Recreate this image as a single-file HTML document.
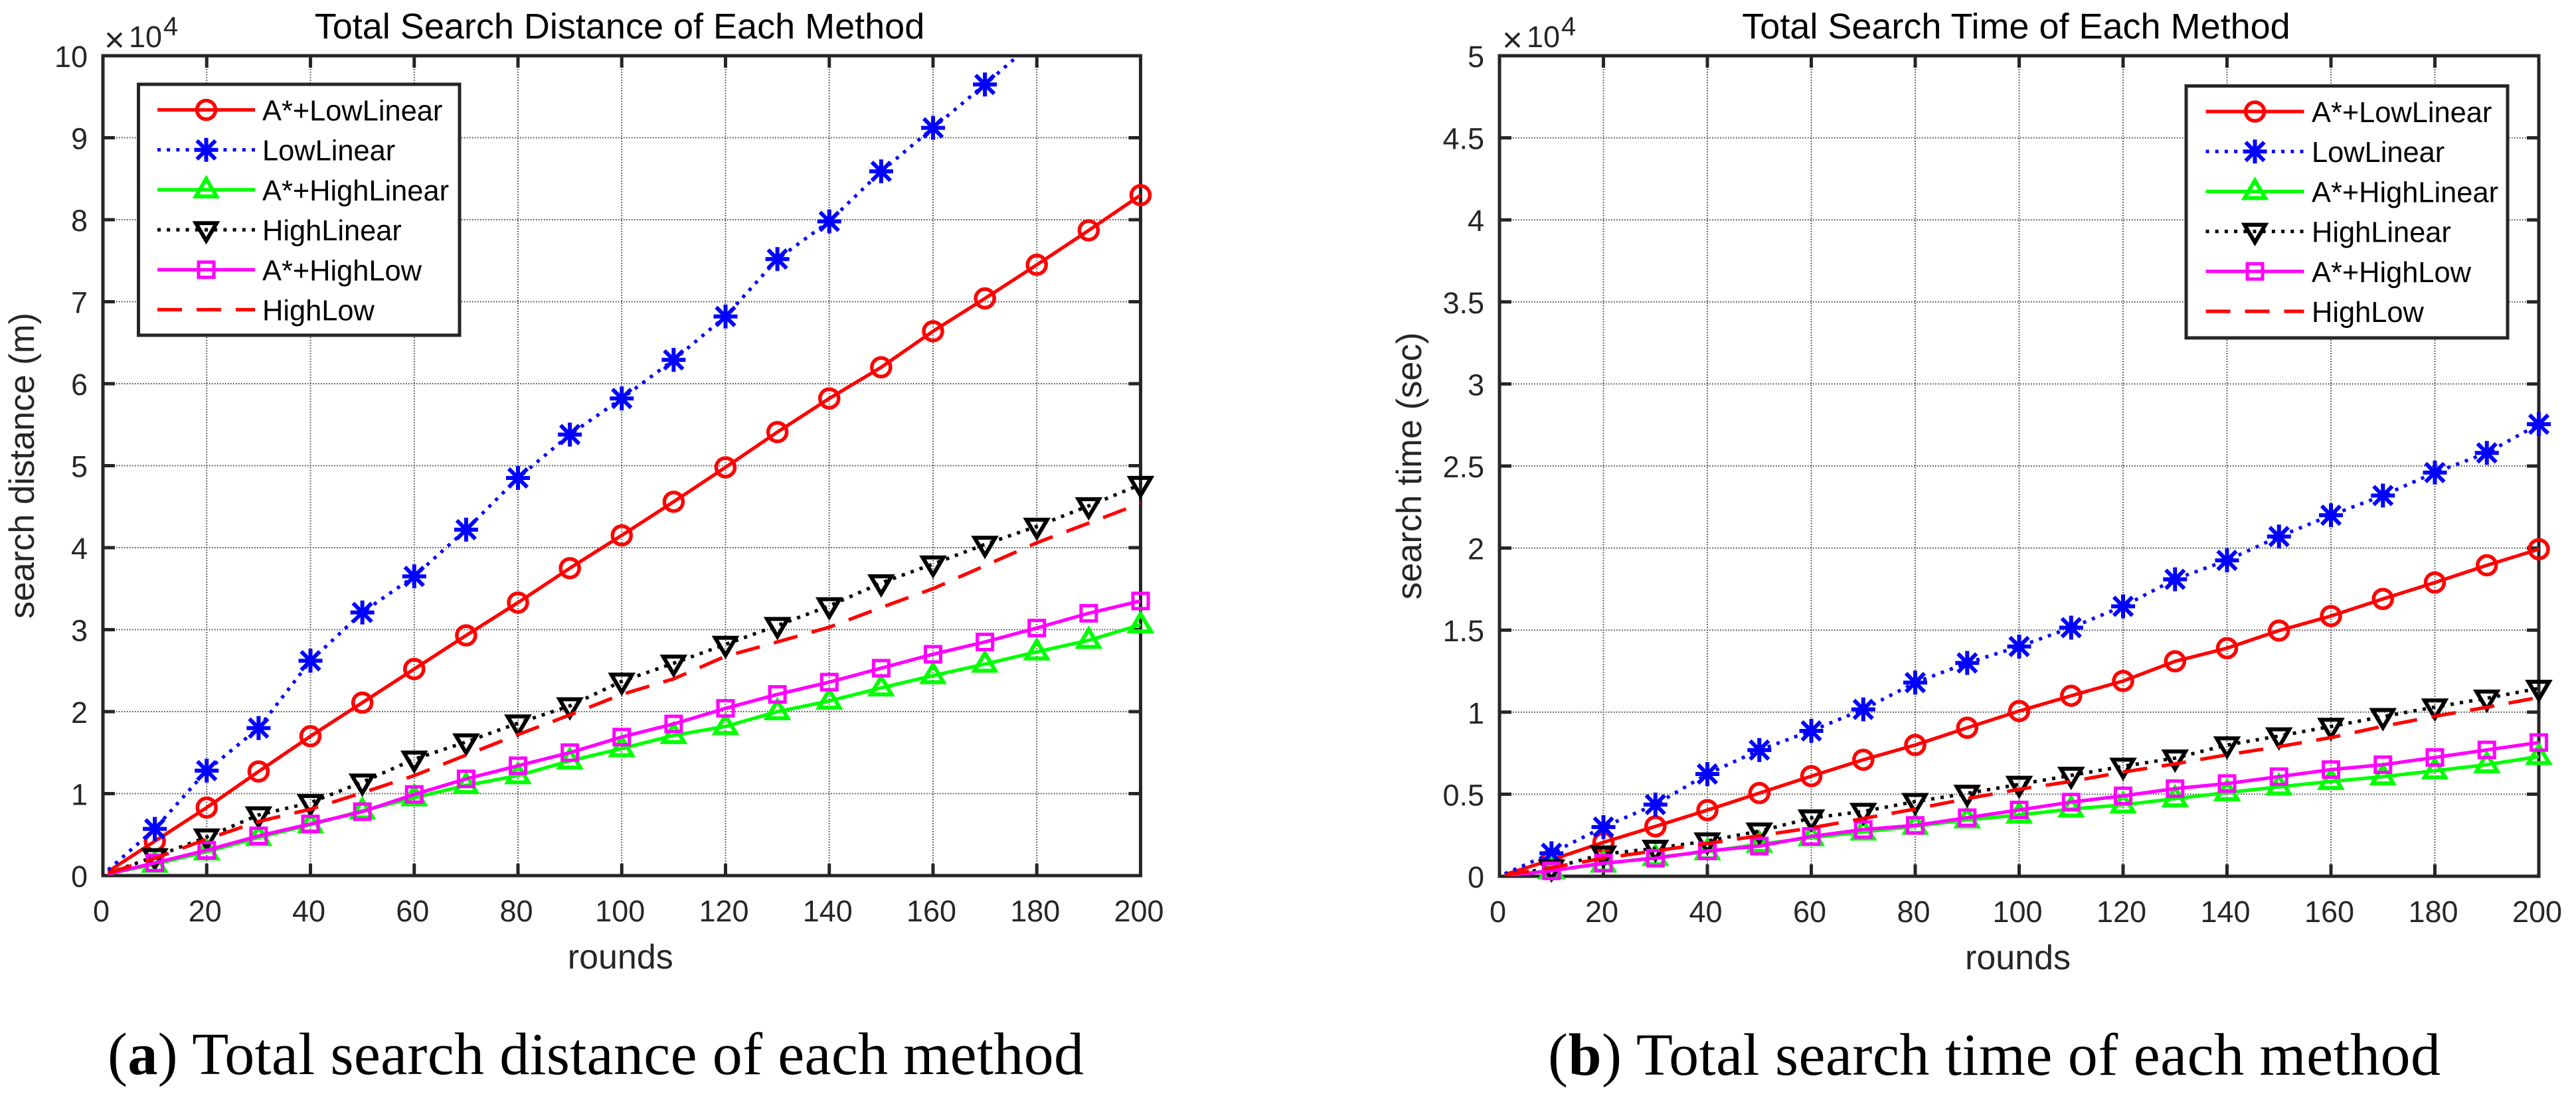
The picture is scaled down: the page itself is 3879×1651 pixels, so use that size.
<!DOCTYPE html>
<html lang="en">
<head>
<meta charset="utf-8">
<title>Total Search Distance and Time of Each Method</title>
<style>
html,body{margin:0;padding:0;background:#fff;width:3879px;height:1651px;overflow:hidden}
svg{display:block}
text{font-family:"Liberation Sans",Arial,sans-serif}
.cap{font-family:"Liberation Serif","Times New Roman",serif;font-size:90px;fill:#000}
</style>
</head>
<body>
<svg id="figure" xmlns="http://www.w3.org/2000/svg" width="3879" height="1651" viewBox="0 0 3879 1651">
<rect x="0" y="0" width="3879" height="1651" fill="#fff"/>
<g id="chart-a"></g>
<g id="chart-b"></g>
<text class="cap" x="162" y="1618" textLength="1470" lengthAdjust="spacing">(<tspan font-weight="bold">a</tspan>) Total search distance of each method</text>
<text class="cap" x="2331" y="1619" textLength="1344" lengthAdjust="spacing">(<tspan font-weight="bold">b</tspan>) Total search time of each method</text>
</svg>
<script>
const rounds = [1,10,20,30,40,50,60,70,80,90,100,110,120,130,140,150,160,170,180,190,200];
const xTickValues = [0,20,40,60,80,100,120,140,160,180,200];
const distanceTickValues = [0,1,2,3,4,5,6,7,8,9,10];
const timeTickValues = [0,0.5,1,1.5,2,2.5,3,3.5,4,4.5,5];
const seriesNames = ['A*+LowLinear','LowLinear','A*+HighLinear','HighLinear','A*+HighLow','HighLow'];

const distLowLinearAstar = [0.05,0.42,0.83,1.27,1.70,2.11,2.52,2.93,3.33,3.75,4.15,4.56,4.98,5.41,5.82,6.20,6.64,7.04,7.45,7.87,8.30];
const distLowLinear = [0.07,0.57,1.28,1.80,2.62,3.21,3.65,4.22,4.85,5.38,5.82,6.29,6.82,7.52,7.98,8.59,9.12,9.65,10.2,10.75,11.3];
const distHighLinearAstar = [0.02,0.14,0.29,0.465,0.62,0.79,0.95,1.10,1.22,1.40,1.55,1.71,1.82,2.00,2.13,2.29,2.44,2.58,2.73,2.87,3.06];
const distHighLinear = [0.03,0.23,0.47,0.74,0.89,1.14,1.42,1.63,1.86,2.07,2.37,2.59,2.82,3.05,3.29,3.57,3.80,4.04,4.26,4.51,4.77];
const distHighLowAstar = [0.02,0.155,0.31,0.485,0.63,0.78,0.99,1.18,1.34,1.50,1.69,1.85,2.04,2.21,2.36,2.53,2.70,2.85,3.02,3.20,3.35];
const distHighLow = [0.03,0.21,0.445,0.66,0.81,1.01,1.22,1.47,1.72,1.96,2.21,2.40,2.675,2.85,3.03,3.27,3.50,3.78,4.06,4.30,4.54];

const timeLowLinearAstar = [0.01,0.10,0.207,0.304,0.403,0.507,0.61,0.71,0.80,0.905,1.007,1.10,1.19,1.31,1.39,1.497,1.586,1.69,1.79,1.895,1.993];
const timeLowLinear = [0.015,0.14,0.30,0.437,0.623,0.769,0.886,1.017,1.18,1.30,1.40,1.515,1.645,1.81,1.925,2.07,2.20,2.32,2.46,2.58,2.755];
const timeHighLinearAstar = [0.004,0.035,0.075,0.115,0.15,0.195,0.235,0.27,0.305,0.344,0.373,0.41,0.435,0.473,0.51,0.545,0.578,0.607,0.643,0.68,0.73];
const timeHighLinear = [0.005,0.05,0.135,0.17,0.215,0.275,0.355,0.395,0.455,0.505,0.56,0.615,0.67,0.72,0.80,0.855,0.913,0.973,1.031,1.085,1.145];
const timeHighLowAstar = [0.004,0.033,0.08,0.11,0.155,0.184,0.243,0.285,0.31,0.357,0.404,0.452,0.49,0.534,0.565,0.607,0.65,0.68,0.724,0.77,0.815];
const timeHighLow = [0.006,0.053,0.11,0.155,0.20,0.247,0.295,0.352,0.41,0.473,0.53,0.578,0.635,0.685,0.74,0.79,0.845,0.914,0.975,1.03,1.09];

const SVGNS = 'http://www.w3.org/2000/svg';
const seriesStyles = [
  {color:'#ff0000', dash:'', width:5.2, marker:'circle'},
  {color:'#0000ff', dash:'5 9.2', width:5.2, marker:'asterisk'},
  {color:'#00ff00', dash:'', width:5.2, marker:'triangle-up'},
  {color:'#000000', dash:'5 9.2', width:5.2, marker:'triangle-down'},
  {color:'#ff00ff', dash:'', width:5.2, marker:'square'},
  {color:'#ff0000', dash:'37 22', width:5.2, marker:'none'}
];

function mk(parent, tag, attrs, txt) {
  const el = document.createElementNS(SVGNS, tag);
  for (const k in attrs) el.setAttribute(k, attrs[k]);
  if (txt !== undefined) el.textContent = txt;
  parent.appendChild(el);
  return el;
}

function drawMarker(parent, kind, cx, cy, color) {
  const sw = 5.5;
  const base = {fill:'none', stroke:color, 'stroke-width':sw};
  if (kind === 'circle') {
    return mk(parent, 'circle', Object.assign({cx:cx, cy:cy, r:14}, base));
  }
  if (kind === 'square') {
    return mk(parent, 'rect', Object.assign({x:cx-11.5, y:cy-11.5, width:23, height:23}, base, {'stroke-width':5}));
  }
  if (kind === 'triangle-up') {
    return mk(parent, 'polygon', Object.assign({points:[[cx,cy-16.5],[cx+15.6,cy+10],[cx-15.6,cy+10]].join(' ')}, base, {'stroke-width':6}));
  }
  if (kind === 'triangle-down') {
    return mk(parent, 'polygon', Object.assign({points:[[cx,cy+16.5],[cx+15.6,cy-10],[cx-15.6,cy-10]].join(' ')}, base, {'stroke-width':6}));
  }
  if (kind === 'asterisk') {
    const r = 18, d = 14;
    const segs = [[-r,0,r,0],[0,-r,0,r],[-d,-d,d,d],[-d,d,d,-d]];
    const d_ = segs.map(s => 'M' + (cx+s[0]) + ' ' + (cy+s[1]) + 'L' + (cx+s[2]) + ' ' + (cy+s[3])).join('');
    return mk(parent, 'path', Object.assign({d:d_}, base, {'stroke-width':6}));
  }
  return null;
}

function drawChart(root, cfg) {
  const L = cfg.left, R = cfg.right, T = cfg.top, B = cfg.bottom;
  const xScale = v => L + (v - 0) / 200 * (R - L);
  const yScale = v => B - v / cfg.yMax * (B - T);
  const axisColor = '#262626';

  const clipId = cfg.id + '-clip';
  const defs = mk(root, 'defs', {});
  const clip = mk(defs, 'clipPath', {id:clipId});
  mk(clip, 'rect', {x:L, y:T, width:R-L, height:B-T});

  const grid = mk(root, 'g', {fill:'none', stroke:'#3c3c3c', 'stroke-width':2, 'stroke-dasharray':'1.5 2.5'});
  
  
  xTickValues.forEach(v => {
    if (v === 0 || v === 200) return;
    const ln = mk(grid, 'line', {x1:xScale(v), x2:xScale(v), y1:T, y2:B});
    
    
  });
  cfg.yTicks.forEach(v => {
    if (v === 0 || v === cfg.yMax) return;
    const ln = mk(grid, 'line', {x1:L, x2:R, y1:yScale(v), y2:yScale(v)});
    
    
  });

  const ticks = mk(root, 'g', {stroke:axisColor, 'stroke-width':5, fill:'none'});
  
  
  const tlen = 18;
  xTickValues.forEach(v => {
    if (v === 0 || v === 200) return;
    const a = mk(ticks, 'line', {x1:xScale(v), x2:xScale(v), y1:B, y2:B-tlen});
    
    
    const b = mk(ticks, 'line', {x1:xScale(v), x2:xScale(v), y1:T, y2:T+tlen});
    
    
  });
  cfg.yTicks.forEach(v => {
    if (v === 0 || v === cfg.yMax) return;
    const a = mk(ticks, 'line', {x1:L, x2:L+tlen, y1:yScale(v), y2:yScale(v)});
    
    
    const b = mk(ticks, 'line', {x1:R, x2:R-tlen, y1:yScale(v), y2:yScale(v)});
    
    
  });

  const box = mk(root, 'rect', {x:L, y:T, width:R-L, height:B-T, fill:'none', stroke:axisColor, 'stroke-width':5});
  
  

  xTickValues.forEach(v => {
    const t = mk(root, 'text', {x:xScale(v)-2.5, y:B+69, 'font-size':45, fill:axisColor, 'text-anchor':'middle'}, String(v));
    
    
  });
  cfg.yTicks.forEach(v => {
    const t = mk(root, 'text', {x:L-23, y:yScale(v)+17, 'font-size':45, fill:axisColor, 'text-anchor':'end'}, String(v));
    
    
  });

  const mult = mk(root, 'g', {fill:axisColor});
  
  
  mk(mult, 'text', {x:L+2+cfg.multDx, y:78, 'font-size':53}, '\u00D7');
  mk(mult, 'text', {x:L+39+cfg.multDx, y:71, 'font-size':45}, '10');
  mk(mult, 'text', {x:L+91+cfg.multDx, y:53, 'font-size':40}, '4');

  const title = mk(root, 'text', {x:cfg.titleX, y:58, 'font-size':54, fill:'#000', 'text-anchor':'middle'}, cfg.title);
  
  

  const xLab = mk(root, 'text', {x:(L+R)/2-2, y:B+140, 'font-size':52, fill:axisColor, 'text-anchor':'middle'}, 'rounds');
  
  

  const yLab = mk(root, 'text', {x:0, y:0, 'font-size':52.5, fill:axisColor, 'text-anchor':'middle',
    transform:'translate(' + cfg.yLabelX + ',' + (T+B)/2 + ') rotate(-90)'}, cfg.yLabel);
  
  

  cfg.series.forEach((vals, i) => {
    const st = seriesStyles[i];
    const g = mk(root, 'g', {});
    
    
    const pts = rounds.map((r, k) => xScale(r) + ',' + yScale(vals[k])).join(' ');
    const line = mk(g, 'polyline', {points:pts, fill:'none', stroke:st.color, 'stroke-width':st.width,
      'stroke-linejoin':'round', 'clip-path':'url(#' + clipId + ')'});
    if (st.dash) line.setAttribute('stroke-dasharray', st.dash);
    
    
    rounds.forEach((r, k) => {
      if (r % 10 !== 0 || vals[k] > cfg.yMax) return;
      const m = drawMarker(g, st.marker, xScale(r), yScale(vals[k]), st.color);
      if (m) {
        
        
      }
    });
  });

  const lg = cfg.legend;
  const legend = mk(root, 'g', {});
  
  
  mk(legend, 'rect', {x:lg.x, y:lg.y, width:lg.w, height:lg.h, fill:'#fff', stroke:axisColor, 'stroke-width':5});
  seriesNames.forEach((name, i) => {
    const st = seriesStyles[i];
    const ry = lg.y + lg.first + i * lg.step;
    const e = mk(legend, 'g', {});
    
    
    const ln = mk(e, 'line', {x1:lg.lineX1, x2:lg.lineX2, y1:ry, y2:ry, stroke:st.color, 'stroke-width':st.width});
    if (st.dash) ln.setAttribute('stroke-dasharray', st.dash);
    drawMarker(e, st.marker, (lg.lineX1 + lg.lineX2) / 2, ry, st.color);
    mk(e, 'text', {x:lg.textX, y:ry+16, 'font-size':43.4, fill:'#000'}, name);
  });
}

drawChart(document.getElementById('chart-a'), {
  id:'a', left:155, right:1717.5, top:84, bottom:1319, yMax:10, yTicks:distanceTickValues, multDx:0,
  title:'Total Search Distance of Each Method', titleX:933,
  yLabel:'search distance (m)', yLabelX:51,
  series:[distLowLinearAstar, distLowLinear, distHighLinearAstar, distHighLinear, distHighLowAstar, distHighLow],
  legend:{x:208.5, y:127, w:483.5, h:378, first:38.5, step:60.2, lineX1:237, lineX2:384, textX:395}
});
drawChart(document.getElementById('chart-b'), {
  id:'b', left:2258, right:3823, top:84, bottom:1320, yMax:5, yTicks:timeTickValues, multDx:2,
  title:'Total Search Time of Each Method', titleX:3036,
  yLabel:'search time (sec)', yLabelX:2140,
  series:[timeLowLinearAstar, timeLowLinear, timeHighLinearAstar, timeHighLinear, timeHighLowAstar, timeHighLow],
  legend:{x:3292, y:129.5, w:484, h:379.5, first:38.5, step:60.2, lineX1:3321.5, lineX2:3469.5, textX:3481}
});
</script>
</body>
</html>
